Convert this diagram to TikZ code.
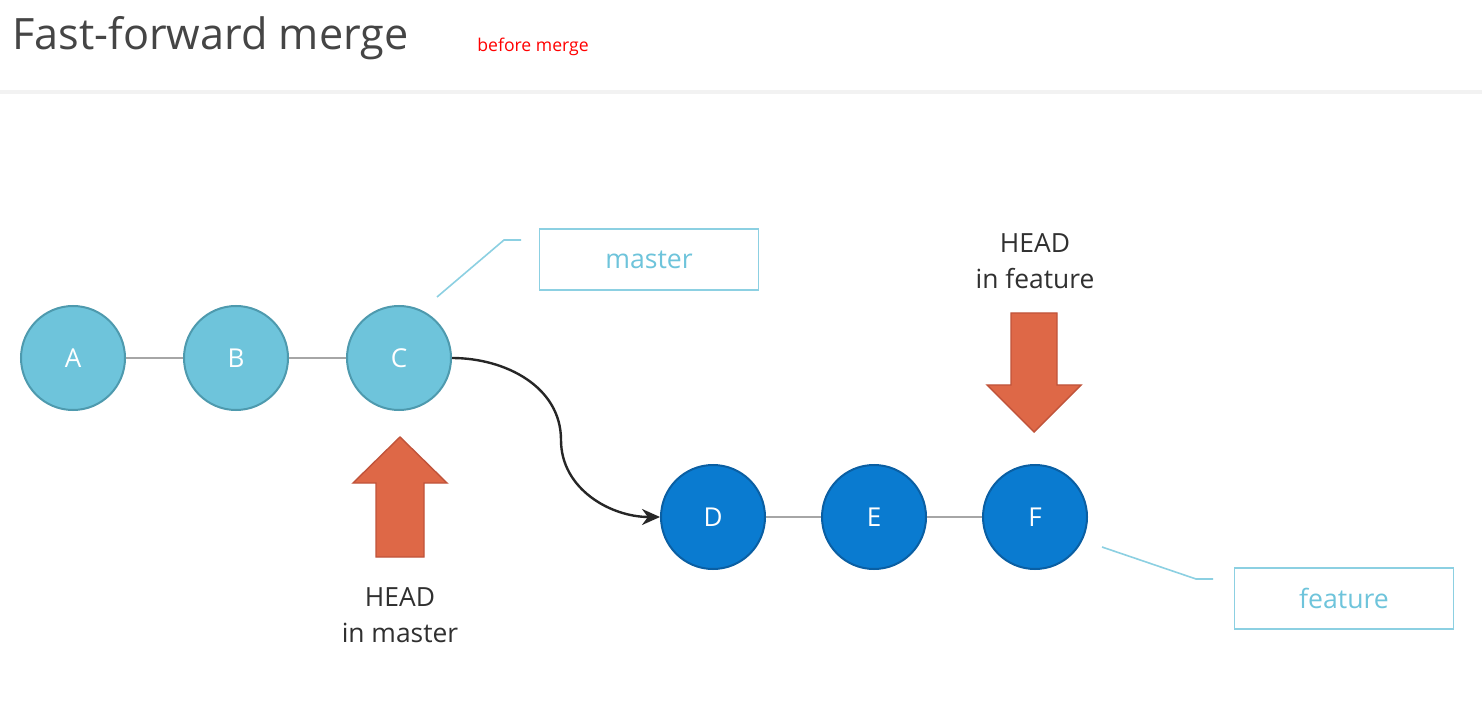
\documentclass[tikz,border=0pt]{standalone}
\usepackage{fontspec}
\setmainfont{Open Sans}
\usetikzlibrary{arrows.meta}
\definecolor{lblue}{HTML}{6EC4DB}
\definecolor{lblueb}{HTML}{4E9AAE}
\definecolor{dblue}{HTML}{0A7BD0}
\definecolor{dblueb}{HTML}{0A5FA3}
\definecolor{boxline}{HTML}{8CD0E2}
\definecolor{headred}{HTML}{DE6847}
\definecolor{headredb}{HTML}{C0533A}
\definecolor{txt}{HTML}{303030}
\tikzset{
  commit/.style={circle, minimum size=52pt, inner sep=0pt, line width=1pt,
    text=white, font=\fontsize{13}{14}\selectfont},
  mcommit/.style={commit, fill=lblue, draw=lblueb},
  fcommit/.style={commit, fill=dblue, draw=dblueb},
  link/.style={draw=gray!70, line width=0.8pt},
  branchbox/.style={draw=boxline, line width=0.9pt, minimum width=109.5pt,
    minimum height=30.5pt, inner sep=0pt, text=lblue, font=\fontsize{13.3}{15}\selectfont},
  callout/.style={draw=boxline, line width=0.8pt},
  headarrow/.style={fill=headred, draw=headredb, line width=0.7pt},
  headlabel/.style={align=center, text=txt, font=\fontsize{13.2}{18}\selectfont, inner sep=0pt}
}
\begin{document}
\begin{tikzpicture}[x=0.5pt,y=-0.5pt]
\useasboundingbox (0,0) rectangle (1482,705);
\fill[white] (0,0) rectangle (1482,705);
% header separator
\fill[gray!10] (0,90) rectangle (1482,94);
\node[anchor=base west, inner sep=0pt, text=txt!90, font=\fontsize{21.6}{24}\selectfont] (title) at (12,50) {Fast-forward merge};
\node[anchor=base west, inner sep=0pt, text=red, font=\fontsize{8.8}{10}\selectfont] (sub) at (477,52) {before merge};

% commits
\node[mcommit] (A) at (73,358) {A};
\node[mcommit] (B) at (236,358) {B};
\node[mcommit] (C) at (399,358) {C};
\node[fcommit] (D) at (713,517) {D};
\node[fcommit] (E) at (874,517) {E};
\node[fcommit] (F) at (1035,517) {F};

\draw[link] (A) -- (B);
\draw[link] (B) -- (C);
\draw[link] (D) -- (E);
\draw[link] (E) -- (F);

\coordinate (mid) at (561,440);
\draw[line width=1.2pt, black!85, -{Stealth[length=9pt,width=8pt]}]
  (C.east) to[out=0,in=90] (mid) to[out=-90,in=180] (D.west);

% branch labels
\node[branchbox] (master) at (649,259.5) {master};
\node[branchbox] (feature) at (1344,598.5) {feature};
\coordinate (mc1) at (437,297);
\coordinate (mc2) at (504,240);
\coordinate (mc3) at (521,240);
\draw[callout] (mc1) -- (mc2) -- (mc3);
\coordinate (fc1) at (1102,547);
\coordinate (fc2) at (1196,579);
\coordinate (fc3) at (1213,579);
\draw[callout] (fc1) -- (fc2) -- (fc3);

% HEAD arrows
\draw[headarrow] (1011,313) -- (1057,313) -- (1057,385) -- (1081,385) -- (1034,432)
  -- (987,385) -- (1011,385) -- cycle;
\draw[headarrow] (376,557) -- (424,557) -- (424,483) -- (447,483) -- (400,437)
  -- (353,483) -- (376,483) -- cycle;

\node[headlabel] (hf) at (1035,261) {HEAD\\in feature};
\node[headlabel] (hm) at (400,615) {HEAD\\in master};
\end{tikzpicture}
\end{document}
